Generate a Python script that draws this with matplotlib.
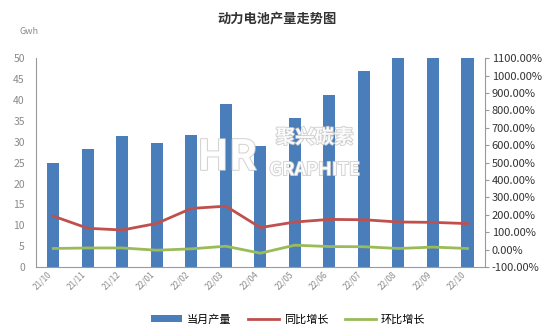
import matplotlib
matplotlib.use("Agg")
import matplotlib.pyplot as plt
import matplotlib.patheffects as pe
import numpy as np

plt.rcParams['font.family'] = ['Noto Sans CJK SC', 'DejaVu Sans']

categories = ["21/10", "21/11", "21/12", "22/01", "22/02", "22/03", "22/04",
              "22/05", "22/06", "22/07", "22/08", "22/09", "22/10"]
production = [25.0, 28.3, 31.4, 29.6, 31.7, 39.0, 28.9, 35.6, 41.2, 47.0, 56.9, 62.8, 61.0]
yoy = [193, 123, 113, 151, 237, 250, 127, 159, 174, 172, 159, 157, 150]
mom = [7, 10, 10, -3, 5, 20, -20, 26, 18, 17, 7, 15, 7]
left_ticks = [0, 5, 10, 15, 20, 25, 30, 35, 40, 45, 50]
right_ticks = [-100, 0, 100, 200, 300, 400, 500, 600, 700, 800, 900, 1000, 1100]

fig = plt.figure(figsize=(5.54, 3.36), dpi=100)
ax = fig.add_axes([0.065, 0.205, 0.81, 0.622])
x = np.arange(len(categories))

bars = ax.bar(x, production, width=0.35, color="#4A7EBB", label="当月产量", zorder=2)
ax.set_ylim(0, 50)
ax.set_xlim(-0.5, len(categories) - 0.5)
ax.set_yticks(left_ticks)
ax.tick_params(axis='y', length=0, labelsize=7.5, labelcolor="#8a8a8a", pad=8)
ax.set_xticks(x)
ax.set_xticklabels(categories, rotation=45, ha='right', fontsize=6, color="#8a8a8a")
ax.tick_params(axis='x', length=0, pad=2)
for s in ['top', 'right']:
    ax.spines[s].set_visible(False)
ax.spines['left'].set_color("#9a9a9a")
ax.spines['bottom'].set_color("#9a9a9a")

ax2 = ax.twinx()
ax2.set_ylim(-100, 1100)
ax2.set_yticks(right_ticks)
ax2.set_yticklabels([f"{v:.2f}%" for v in right_ticks])
ax2.tick_params(axis='y', length=3, labelsize=8, labelcolor="#333333", color="#9a9a9a", pad=2)
for s in ['top', 'left', 'bottom']:
    ax2.spines[s].set_visible(False)
ax2.spines['right'].set_color("#9a9a9a")
l1, = ax2.plot(x, yoy, color="#C0504D", lw=2.0, label="同比增长", zorder=3)
l2, = ax2.plot(x, mom, color="#9BBB59", lw=2.0, label="环比增长", zorder=3)

# watermark
wm_fx = [pe.withStroke(linewidth=1.2, foreground="#c8c8c8")]
fig.text(0.41, 0.53, "HR", fontsize=30, fontstyle='italic', fontweight='bold', color="white",
         alpha=0.9, path_effects=wm_fx, ha='center', va='center')
fig.text(0.568, 0.59, "聚兴碳素", fontsize=14, fontweight='bold', color="white",
         alpha=0.9, path_effects=wm_fx, ha='center', va='center')
fig.text(0.568, 0.495, "GRAPHITE", fontsize=13, fontweight='bold', color="white",
         alpha=0.9, path_effects=wm_fx, ha='center', va='center')

fig.text(0.5, 0.945, "动力电池产量走势图", fontsize=9.5, fontweight='bold', color="#333333",
         ha='center', va='center')
fig.text(0.036, 0.905, "Gwh", fontsize=6.5, color="#8a8a8a", ha='left', va='center')

fig.legend(handles=[bars, l1, l2], loc='center', bbox_to_anchor=(0.52, 0.05), ncol=3,
           frameon=False, fontsize=8, handlelength=2.8, columnspacing=1.5, handletextpad=0.4)

fig.savefig("out.png", dpi=100)
